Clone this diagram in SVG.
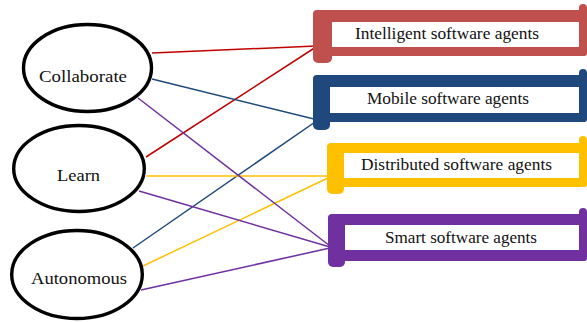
<svg xmlns="http://www.w3.org/2000/svg" width="587" height="322" viewBox="0 0 587 322">
<style>
.ell{fill:#fff;stroke:#000;stroke-width:3.4}
.t{font-family:"Liberation Serif","Times New Roman",serif;font-size:17px;fill:#111}
.c{fill:none;stroke-width:1.5}
.red{fill:#C0504D}.blue{fill:#1F497D}.yel{fill:#FFC000}.pur{fill:#7030A0}
</style>
<rect width="587" height="322" fill="#fff"/>
<g id="connectors">
<line class="c" stroke="#C00000" x1="152" y1="53" x2="316" y2="46"/>
<line class="c" stroke="#C00000" x1="146" y1="157" x2="316" y2="47"/>
<line class="c" stroke="#1F497D" x1="152" y1="79" x2="318" y2="120"/>
<line class="c" stroke="#1F497D" x1="133" y1="248" x2="318" y2="120"/>
<line class="c" stroke="#FFC000" x1="146" y1="176" x2="330" y2="176"/>
<line class="c" stroke="#FFC000" x1="143" y1="266" x2="330" y2="177"/>
<line class="c" stroke="#7030A0" x1="138" y1="98" x2="330" y2="246"/>
<line class="c" stroke="#7030A0" x1="139" y1="191" x2="330" y2="247"/>
<line class="c" stroke="#7030A0" x1="141" y1="290" x2="330" y2="248"/>
</g>
<g id="collaborate">
<ellipse class="ell" cx="87.5" cy="68" rx="64" ry="43.5"/>
<text class="t" x="39" y="82" textLength="88" lengthAdjust="spacingAndGlyphs">Collaborate</text>
</g>
<g id="learn">
<ellipse class="ell" cx="79" cy="168.5" rx="65.3" ry="43"/>
<text class="t" x="57" y="181" textLength="43" lengthAdjust="spacingAndGlyphs">Learn</text>
</g>
<g id="autonomous">
<ellipse class="ell" cx="77" cy="274.5" rx="65.3" ry="44"/>
<text class="t" x="31" y="284" textLength="96" lengthAdjust="spacingAndGlyphs">Autonomous</text>
</g>
<g id="intelligent" class="red">
<rect x="313" y="10" width="274" height="12" rx="4"/>
<rect x="313" y="10" width="19" height="53" rx="5"/>
<rect x="313" y="47" width="274" height="9" rx="3"/>
<rect x="579" y="4" width="8" height="52" rx="4"/>
<text class="t" x="355" y="39" textLength="184" lengthAdjust="spacingAndGlyphs">Intelligent software agents</text>
</g>
<g id="mobile" class="blue">
<rect x="313" y="75" width="274" height="12" rx="4"/>
<rect x="313" y="75" width="17" height="55" rx="5"/>
<rect x="313" y="113" width="274" height="9" rx="3"/>
<rect x="579" y="69" width="8" height="53" rx="4"/>
<text class="t" x="367" y="104" textLength="162" lengthAdjust="spacingAndGlyphs">Mobile software agents</text>
</g>
<g id="distributed" class="yel">
<rect x="327" y="143" width="260" height="10" rx="4"/>
<rect x="327" y="143" width="17" height="51" rx="5"/>
<rect x="327" y="178" width="260" height="9" rx="3"/>
<rect x="579" y="136" width="8" height="51" rx="4"/>
<text class="t" x="361" y="170" textLength="191" lengthAdjust="spacingAndGlyphs">Distributed software agents</text>
</g>
<g id="smart" class="pur">
<rect x="328" y="214" width="259" height="11" rx="4"/>
<rect x="328" y="214" width="17" height="53" rx="5"/>
<rect x="328" y="250" width="259" height="11" rx="3"/>
<rect x="579" y="208" width="8" height="53" rx="4"/>
<text class="t" x="385" y="243" textLength="152" lengthAdjust="spacingAndGlyphs">Smart software agents</text>
</g>
</svg>
